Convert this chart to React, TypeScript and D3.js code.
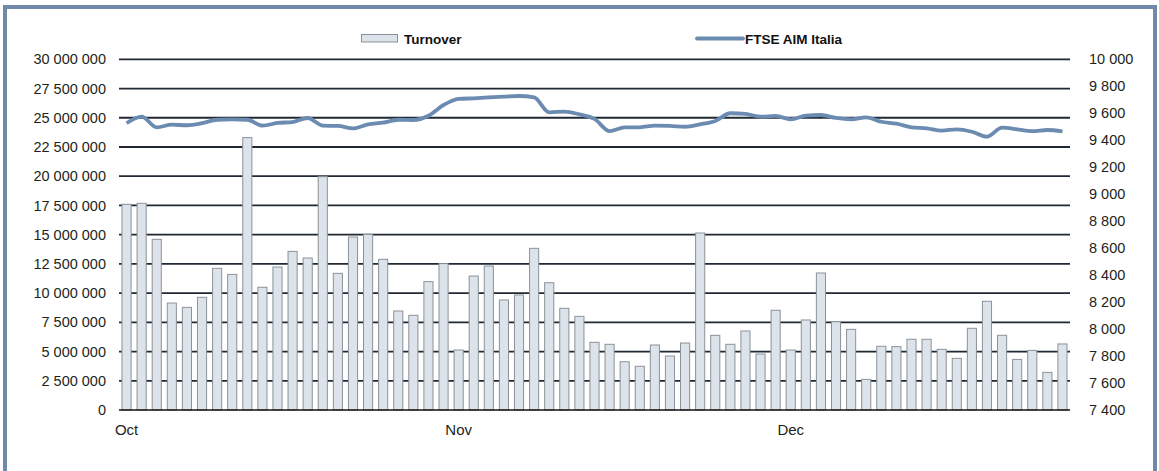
import React, {useEffect, useRef} from 'react';
import * as d3 from 'd3';

// trading days, Oct-Dec 2023
const octDays = [2, 3, 4, 5, 6, 9, 10, 11, 12, 13, 16, 17, 18, 19, 20, 23, 24, 25, 26, 27, 30, 31];
const novDays = [1, 2, 3, 6, 7, 8, 9, 10, 13, 14, 15, 16, 17, 20, 21, 22, 23, 24, 27, 28, 29, 30];
const decDays = [1, 4, 5, 6, 7, 8, 11, 12, 13, 14, 15, 18, 19, 20, 21, 22, 27, 28, 29];
const monthNames = ["Oct", "Nov", "Dec"];

const turnover = [
    17600000, 17680000, 14600000, 9150000, 8780000, 9640000, 12120000, 11600000, 23300000, 10500000,
    12230000, 13570000, 13000000, 19960000, 11690000, 14800000, 15030000, 12890000, 8470000, 8100000,
    10980000, 12520000, 5130000, 11460000, 12320000, 9410000, 9840000, 13830000, 10890000, 8700000,
    8010000, 5790000, 5620000, 4130000, 3740000, 5560000, 4620000, 5730000, 15140000, 6390000,
    5620000, 6760000, 4790000, 8530000, 5130000, 7700000, 11720000, 7550000, 6900000, 2620000,
    5450000, 5420000, 6050000, 6050000, 5190000, 4420000, 6990000, 9300000, 6390000, 4330000,
    5100000, 3220000, 5650000
];

const ftseAim = [
    9526, 9575, 9496, 9515, 9511, 9526, 9552, 9555, 9552, 9508,
    9528, 9535, 9565, 9508, 9506, 9488, 9518, 9530, 9552, 9550,
    9582, 9661, 9706, 9711, 9718, 9723, 9728, 9718, 9607, 9612,
    9592, 9558, 9468, 9496, 9496, 9508, 9506, 9500, 9518, 9543,
    9600, 9595, 9575, 9580, 9555, 9582, 9587, 9565, 9555, 9570,
    9537, 9523, 9496, 9488, 9471, 9481, 9463, 9426, 9493, 9481,
    9468, 9476, 9466
];

const leftTicks = d3.range(0, 30000001, 2500000);
const rightTicks = d3.range(7400, 10001, 200);

const fmt = (v: number) => d3.format(",")(v).replace(/,/g, " ");

const App = () => {
    const ref = useRef<SVGSVGElement>(null);

    useEffect(() => {
        const width = 1159;
        const height = 471;
        const left = 119, right = 1070, top = 59.3, bottom = 410;

        const days = [
            ...octDays.map(d => `2023-10-${d}`),
            ...novDays.map(d => `2023-11-${d}`),
            ...decDays.map(d => `2023-12-${d}`)
        ];
        const firstOfMonth = [days[0], `2023-11-${novDays[0]}`, `2023-12-${decDays[0]}`];

        const svg = d3.select(ref.current);
        svg.selectAll("*").remove();
        svg.attr("width", width).attr("height", height)
            .style("font-family", "'Liberation Sans', Arial, sans-serif");

        // frame
        svg.append("rect")
            .attr("x", 5).attr("y", 7)
            .attr("width", 1150).attr("height", 500)
            .attr("fill", "white")
            .attr("stroke", "#6f89a9")
            .attr("stroke-width", 4);

        const x = d3.scaleBand<string>()
            .domain(days)
            .range([left, right])
            .paddingInner(0.33)
            .paddingOuter(0.165);

        const y = d3.scaleLinear().domain([0, 30000000]).range([bottom, top]);
        const y2 = d3.scaleLinear().domain([7400, 10000]).range([bottom, top]);

        // grid
        svg.append("g")
            .selectAll("line")
            .data(leftTicks.slice(1))
            .join("line")
            .attr("x1", left).attr("x2", right)
            .attr("y1", d => y(d)).attr("y2", d => y(d))
            .attr("stroke", "#1f2833")
            .attr("stroke-width", 1.8);

        // bars
        svg.append("g")
            .selectAll("rect")
            .data(turnover)
            .join("rect")
            .attr("x", (d, i) => x(days[i])! + 0.5)
            .attr("y", d => y(d))
            .attr("width", x.bandwidth() - 1)
            .attr("height", d => y(0) - y(d))
            .attr("fill", "#dce3ea")
            .attr("stroke", "#8c9299")
            .attr("stroke-width", 1);

        // baseline
        svg.append("line")
            .attr("x1", left).attr("x2", right)
            .attr("y1", y(0)).attr("y2", y(0))
            .attr("stroke", "#111")
            .attr("stroke-width", 1.5);

        // index line
        const line = d3.line<number>()
            .x((d, i) => x(days[i])! + x.bandwidth() / 2)
            .y(d => y2(d))
            .curve(d3.curveMonotoneX);

        svg.append("path")
            .datum(ftseAim)
            .attr("d", line)
            .attr("fill", "none")
            .attr("stroke", "#6b8bb1")
            .attr("stroke-width", 3.8)
            .attr("stroke-linejoin", "round");

        // left axis labels
        svg.append("g")
            .attr("font-size", 14.5)
            .attr("fill", "#231f20")
            .attr("text-anchor", "end")
            .selectAll("text")
            .data(leftTicks)
            .join("text")
            .attr("x", 106)
            .attr("y", d => y(d))
            .attr("dy", "0.35em")
            .text(d => fmt(d));

        // right axis labels
        svg.append("g")
            .attr("font-size", 14.5)
            .attr("fill", "#231f20")
            .attr("text-anchor", "start")
            .selectAll("text")
            .data(rightTicks)
            .join("text")
            .attr("x", 1089)
            .attr("y", d => y2(d))
            .attr("dy", "0.35em")
            .text(d => fmt(d));

        // month labels
        svg.append("g")
            .attr("font-size", 15)
            .attr("fill", "#231f20")
            .attr("text-anchor", "middle")
            .selectAll("text")
            .data(firstOfMonth)
            .join("text")
            .attr("x", d => x(d)! + x.bandwidth() / 2)
            .attr("y", 435)
            .text((d, i) => monthNames[i]);

        // legend
        const legend = svg.append("g")
            .attr("font-size", 13.5)
            .attr("font-weight", "bold")
            .attr("fill", "#111");
        legend.append("rect")
            .attr("x", 361.5).attr("y", 34.5)
            .attr("width", 36).attr("height", 7.5)
            .attr("fill", "#dce3ea")
            .attr("stroke", "#8c9299");
        legend.append("text")
            .attr("x", 404).attr("y", 43.5)
            .text("Turnover");
        legend.append("line")
            .attr("x1", 697).attr("x2", 743)
            .attr("y1", 38.5).attr("y2", 38.5)
            .attr("stroke", "#6b8bb1")
            .attr("stroke-width", 3.8)
            .attr("stroke-linecap", "round");
        legend.append("text")
            .attr("x", 745).attr("y", 43.5)
            .text("FTSE AIM Italia");
    }, []);

    return (
        <div style={{position: "absolute", left: 0, top: 0}}>
            <svg ref={ref}></svg>
        </div>
    );
};

export default App;
